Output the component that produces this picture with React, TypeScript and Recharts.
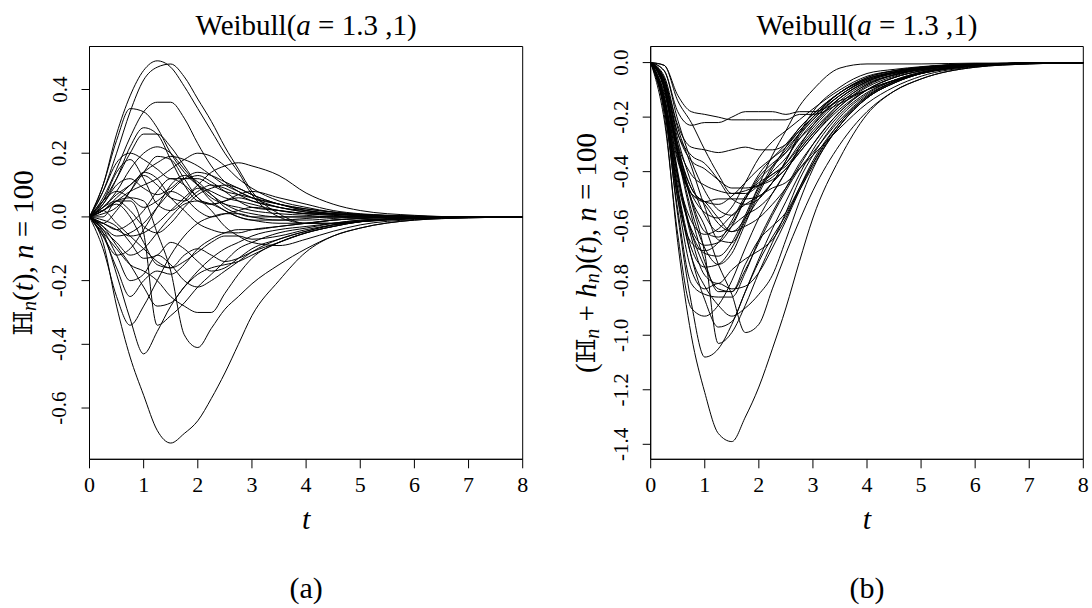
import { LineChart, Line, XAxis, YAxis, ReferenceArea } from 'recharts';

// time grid shared by every path
const T = [0, 0.25, 0.5, 0.75, 1, 1.25, 1.5, 1.75, 2, 2.25, 2.5, 2.75, 3, 3.5, 4, 4.5, 5, 6, 7, 8];

// panel (a): H_n(t) sample paths
const hA1 = [0, 0.1, 0.26, 0.38, 0.46, 0.49, 0.47, 0.41, 0.34, 0.27, 0.2, 0.14, 0.07, 0, -0.02, -0.02, -0.015, -0.005, 0, 0];
const hA2 = [0, 0.08, 0.2, 0.33, 0.43, 0.47, 0.48, 0.44, 0.37, 0.3, 0.22, 0.15, 0.08, 0.01, -0.02, -0.02, -0.015, -0.005, 0, 0];
const hB = [0, 0.06, 0.15, 0.25, 0.33, 0.36, 0.36, 0.31, 0.23, 0.16, 0.11, 0.08, 0.06, 0.04, 0.025, 0.015, 0.008, 0.002, 0, 0];
const hC = [0, 0.1, 0.24, 0.34, 0.33, 0.28, 0.2, 0.14, 0.1, 0.08, 0.06, 0.05, 0.04, 0.02, 0.01, 0.01, 0.005, 0, 0, 0];
const hD = [0, 0.05, 0.12, 0.2, 0.26, 0.26, 0.22, 0.16, 0.1, 0.05, 0.02, 0, -0.01, -0.02, -0.02, -0.01, -0.005, 0, 0, 0];
const hE = [0, 0.03, 0.08, 0.15, 0.2, 0.22, 0.2, 0.15, 0.1, 0.06, 0.04, 0.03, 0.02, 0.01, 0.005, 0, 0, 0, 0, 0];
const hF = [0, 0.02, 0.05, 0.08, 0.1, 0.12, 0.15, 0.18, 0.2, 0.19, 0.16, 0.12, 0.09, 0.05, 0.03, 0.015, 0.008, 0.002, 0, 0];
const hG = [0, -0.02, -0.04, -0.06, -0.05, -0.02, 0.02, 0.06, 0.1, 0.14, 0.16, 0.17, 0.16, 0.13, 0.075, 0.04, 0.02, 0.005, 0, 0];
const hH = [0, 0.08, 0.17, 0.2, 0.18, 0.15, 0.12, 0.12, 0.13, 0.11, 0.08, 0.05, 0.03, 0.02, 0.01, 0.005, 0, 0, 0, 0];
const hI = [0, 0.02, 0.06, 0.1, 0.14, 0.17, 0.19, 0.18, 0.16, 0.13, 0.1, 0.08, 0.06, 0.03, 0.02, 0.01, 0.005, 0, 0, 0];
const hJ = [0, 0.04, 0.1, 0.12, 0.09, 0.07, 0.09, 0.12, 0.12, 0.1, 0.08, 0.07, 0.06, 0.04, 0.02, 0.01, 0.005, 0, 0, 0];
const hK = [0, -0.03, -0.06, -0.05, -0.02, 0.03, 0.08, 0.12, 0.14, 0.13, 0.11, 0.09, 0.07, 0.04, 0.025, 0.015, 0.008, 0.002, 0, 0];
const hL = [0, 0.03, 0.05, 0.02, -0.03, -0.05, -0.02, 0.03, 0.07, 0.09, 0.1, 0.09, 0.07, 0.04, 0.02, 0.01, 0.005, 0, 0, 0];
const hM = [0, 0.05, 0.08, 0.06, 0.03, 0.05, 0.08, 0.06, 0.02, 0, 0.01, 0.02, 0.03, 0.02, 0.01, 0.005, 0, 0, 0, 0];
const hN = [0, -0.02, 0.02, 0.08, 0.14, 0.12, 0.06, 0.02, -0.02, -0.04, -0.05, -0.05, -0.04, -0.03, -0.02, -0.01, -0.005, 0, 0, 0];
const hO = [0, -0.04, -0.08, -0.12, -0.1, -0.05, 0, 0.04, 0.05, 0.04, 0.02, 0, -0.01, -0.01, -0.005, 0, 0, 0, 0, 0];
const hP = [0, 0.02, -0.02, -0.06, -0.1, -0.14, -0.16, -0.14, -0.11, -0.08, -0.06, -0.06, -0.07, -0.06, -0.04, -0.025, -0.015, -0.005, 0, 0];
const hQ = [0, -0.1, -0.25, -0.34, -0.28, -0.2, -0.12, -0.06, -0.02, 0, 0.01, 0.01, 0, -0.01, -0.01, -0.005, 0, 0, 0, 0];
const hR = [0, -0.05, -0.18, -0.32, -0.43, -0.36, -0.28, -0.22, -0.17, -0.13, -0.1, -0.08, -0.06, -0.04, -0.03, -0.02, -0.01, -0.003, 0, 0];
const hS = [0, 0, 0.05, 0.05, -0.05, -0.34, -0.31, -0.27, -0.22, -0.18, -0.14, -0.1, -0.08, -0.05, -0.035, -0.02, -0.01, -0.003, 0, 0];
const hU = [0, 0.02, 0.05, 0.06, 0.05, -0.05, -0.17, -0.37, -0.41, -0.35, -0.29, -0.25, -0.21, -0.15, -0.1, -0.06, -0.035, -0.01, -0.003, 0];
const hW = [0, -0.05, -0.1, -0.15, -0.17, -0.2, -0.25, -0.28, -0.3, -0.3, -0.24, -0.18, -0.13, -0.08, -0.05, -0.03, -0.015, -0.004, 0, 0];
const hX = [0, -0.06, -0.16, -0.25, -0.2, -0.17, -0.18, -0.15, -0.1, -0.07, -0.05, -0.04, -0.04, -0.03, -0.02, -0.01, -0.005, 0, 0, 0];
const hY = [0, -0.03, -0.09, -0.15, -0.22, -0.28, -0.27, -0.22, -0.18, -0.16, -0.15, -0.14, -0.12, -0.08, -0.05, -0.03, -0.015, -0.004, 0, 0];
const hZ = [0, -0.08, -0.28, -0.44, -0.56, -0.67, -0.71, -0.68, -0.64, -0.57, -0.49, -0.4, -0.31, -0.2, -0.11, -0.06, -0.035, -0.01, -0.003, 0];
const hAA = [0, -0.04, -0.12, -0.2, -0.18, -0.12, -0.15, -0.2, -0.22, -0.2, -0.17, -0.14, -0.11, -0.07, -0.045, -0.025, -0.013, -0.004, 0, 0];
const hAB = [0, 0.04, 0.12, 0.22, 0.28, 0.26, 0.18, 0.1, 0.05, 0.04, 0.05, 0.06, 0.05, 0.03, 0.015, 0.008, 0.004, 0, 0, 0];
const hAC = [0, 0.01, 0.03, 0.08, 0.14, 0.19, 0.18, 0.12, 0.06, 0.04, 0.05, 0.07, 0.08, 0.06, 0.04, 0.02, 0.01, 0.003, 0, 0];
const hAD = [0, -0.02, -0.04, -0.02, 0.02, 0.08, 0.12, 0.1, 0.06, 0.02, -0.03, -0.06, -0.08, -0.09, -0.07, -0.045, -0.025, -0.008, -0.002, 0];
const hAE = [0, 0.02, 0.04, 0, -0.08, -0.15, -0.16, -0.12, -0.1, -0.12, -0.14, -0.13, -0.11, -0.08, -0.05, -0.03, -0.015, -0.004, 0, 0];
const hAF = [0, 0.03, 0.07, 0.1, 0.13, 0.1, 0.06, 0.05, 0.08, 0.1, 0.09, 0.07, 0.05, 0.03, 0.015, 0.008, 0.004, 0, 0, 0];
const hAG = [0, -0.01, -0.03, -0.08, -0.13, -0.12, -0.08, -0.1, -0.14, -0.17, -0.16, -0.13, -0.1, -0.07, -0.045, -0.025, -0.013, -0.004, 0, 0];
const hAH = [0, 0.05, 0.14, 0.18, 0.12, 0.04, 0.02, 0.05, 0.09, 0.07, 0.03, 0.01, 0, 0, 0, 0, 0, 0, 0, 0];
const hAI = [0, -0.06, -0.12, -0.1, -0.04, 0.03, 0.1, 0.13, 0.11, 0.07, 0.04, 0.02, 0.01, 0, 0, 0, 0, 0, 0, 0];

// panel (b): (H_n + h_n)(t) sample paths
const sA1 = [0, -0.01, -0.12, -0.18, -0.19, -0.2, -0.21, -0.21, -0.21, -0.21, -0.21, -0.19, -0.19, -0.15, -0.1, -0.065, -0.04, -0.012, -0.002, 0];
const sA2 = [0, -0.03, -0.18, -0.23, -0.22, -0.22, -0.2, -0.18, -0.18, -0.18, -0.19, -0.18, -0.18, -0.14, -0.1, -0.065, -0.04, -0.012, -0.002, 0];
const sB = [0, -0.05, -0.23, -0.31, -0.32, -0.33, -0.32, -0.31, -0.32, -0.32, -0.3, -0.25, -0.2, -0.11, -0.055, -0.03, -0.017, -0.005, -0.002, 0];
const sC = [0, -0.01, -0.14, -0.22, -0.32, -0.41, -0.48, -0.48, -0.45, -0.4, -0.35, -0.28, -0.22, -0.13, -0.07, -0.035, -0.02, -0.007, -0.002, 0];
const sD = [0, -0.06, -0.26, -0.36, -0.39, -0.43, -0.46, -0.46, -0.45, -0.43, -0.39, -0.33, -0.27, -0.17, -0.1, -0.055, -0.03, -0.007, -0.002, 0];
const sE = [0, -0.08, -0.3, -0.41, -0.45, -0.47, -0.48, -0.47, -0.45, -0.42, -0.37, -0.3, -0.24, -0.14, -0.075, -0.045, -0.025, -0.007, -0.002, 0];
const sF = [0, -0.09, -0.33, -0.48, -0.55, -0.57, -0.53, -0.44, -0.35, -0.29, -0.25, -0.21, -0.17, -0.1, -0.05, -0.03, -0.017, -0.005, -0.002, 0];
const sG = [0, -0.13, -0.42, -0.62, -0.7, -0.71, -0.66, -0.56, -0.45, -0.34, -0.25, -0.16, -0.1, -0.02, -0.005, -0.005, -0.005, -0.002, -0.002, 0];
const sH = [0, -0.03, -0.21, -0.36, -0.47, -0.54, -0.56, -0.5, -0.42, -0.37, -0.33, -0.28, -0.23, -0.13, -0.07, -0.04, -0.025, -0.007, -0.002, 0];
const sI = [0, -0.09, -0.32, -0.46, -0.51, -0.52, -0.49, -0.44, -0.39, -0.35, -0.31, -0.25, -0.2, -0.12, -0.06, -0.035, -0.02, -0.007, -0.002, 0];
const sJ = [0, -0.07, -0.28, -0.44, -0.56, -0.62, -0.59, -0.5, -0.43, -0.38, -0.33, -0.26, -0.2, -0.11, -0.06, -0.035, -0.02, -0.007, -0.002, 0];
const sK = [0, -0.14, -0.44, -0.61, -0.67, -0.66, -0.6, -0.5, -0.41, -0.35, -0.3, -0.24, -0.19, -0.11, -0.055, -0.03, -0.017, -0.005, -0.002, 0];
const sL = [0, -0.08, -0.33, -0.54, -0.68, -0.74, -0.7, -0.59, -0.48, -0.39, -0.31, -0.24, -0.19, -0.11, -0.06, -0.035, -0.02, -0.007, -0.002, 0];
const sM = [0, -0.06, -0.3, -0.5, -0.62, -0.64, -0.6, -0.56, -0.53, -0.48, -0.4, -0.31, -0.23, -0.13, -0.07, -0.04, -0.025, -0.007, -0.002, 0];
const sN = [0, -0.13, -0.36, -0.48, -0.51, -0.57, -0.62, -0.6, -0.57, -0.52, -0.46, -0.38, -0.3, -0.18, -0.1, -0.055, -0.03, -0.007, -0.002, 0];
const sO = [0, -0.15, -0.46, -0.68, -0.75, -0.74, -0.68, -0.58, -0.5, -0.44, -0.39, -0.33, -0.27, -0.16, -0.085, -0.045, -0.025, -0.007, -0.002, 0];
const sP = [0, -0.09, -0.4, -0.62, -0.75, -0.83, -0.84, -0.76, -0.66, -0.56, -0.47, -0.39, -0.33, -0.21, -0.12, -0.07, -0.04, -0.012, -0.002, 0];
const sQ = [0, -0.21, -0.63, -0.9, -0.93, -0.89, -0.8, -0.68, -0.57, -0.48, -0.4, -0.32, -0.26, -0.16, -0.09, -0.05, -0.025, -0.007, -0.002, 0];
const sR = [0, -0.16, -0.56, -0.88, -1.08, -1.05, -0.96, -0.84, -0.72, -0.61, -0.51, -0.41, -0.32, -0.19, -0.11, -0.065, -0.035, -0.01, -0.002, 0];
const sS = [0, -0.11, -0.33, -0.51, -0.7, -1.03, -0.99, -0.89, -0.77, -0.66, -0.55, -0.43, -0.34, -0.2, -0.115, -0.065, -0.035, -0.01, -0.002, 0];
const sU = [0, -0.09, -0.33, -0.5, -0.6, -0.74, -0.85, -0.99, -0.96, -0.83, -0.7, -0.58, -0.47, -0.3, -0.18, -0.105, -0.06, -0.017, -0.005, 0];
const sW = [0, -0.16, -0.48, -0.71, -0.82, -0.89, -0.93, -0.9, -0.85, -0.78, -0.65, -0.51, -0.39, -0.23, -0.13, -0.075, -0.04, -0.011, -0.002, 0];
const sX = [0, -0.17, -0.54, -0.81, -0.85, -0.86, -0.86, -0.77, -0.65, -0.55, -0.46, -0.37, -0.3, -0.18, -0.1, -0.055, -0.03, -0.007, -0.002, 0];
const sY = [0, -0.14, -0.47, -0.71, -0.87, -0.97, -0.95, -0.84, -0.73, -0.64, -0.56, -0.47, -0.38, -0.23, -0.13, -0.075, -0.04, -0.011, -0.002, 0];
const sZ = [0, -0.19, -0.66, -1.0, -1.21, -1.36, -1.39, -1.3, -1.19, -1.05, -0.9, -0.73, -0.57, -0.35, -0.19, -0.105, -0.06, -0.017, -0.005, 0];
const sAA = [0, -0.15, -0.5, -0.76, -0.83, -0.81, -0.83, -0.82, -0.77, -0.68, -0.58, -0.47, -0.37, -0.22, -0.125, -0.07, -0.038, -0.011, -0.002, 0];
const sAB = [0, -0.07, -0.26, -0.34, -0.37, -0.43, -0.5, -0.52, -0.5, -0.44, -0.36, -0.27, -0.21, -0.12, -0.065, -0.037, -0.021, -0.007, -0.002, 0];
const sAC = [0, -0.1, -0.35, -0.48, -0.51, -0.5, -0.5, -0.5, -0.49, -0.44, -0.36, -0.26, -0.18, -0.09, -0.04, -0.025, -0.015, -0.004, -0.002, 0];
const sAD = [0, -0.13, -0.42, -0.58, -0.63, -0.61, -0.56, -0.52, -0.49, -0.46, -0.44, -0.39, -0.34, -0.24, -0.15, -0.09, -0.05, -0.015, -0.004, 0];
const sAE = [0, -0.09, -0.34, -0.56, -0.73, -0.84, -0.84, -0.74, -0.65, -0.6, -0.55, -0.46, -0.37, -0.23, -0.13, -0.075, -0.04, -0.011, -0.002, 0];
const sAF = [0, -0.08, -0.31, -0.46, -0.52, -0.59, -0.62, -0.57, -0.47, -0.38, -0.32, -0.26, -0.21, -0.12, -0.065, -0.037, -0.021, -0.007, -0.002, 0];
const sAG = [0, -0.12, -0.41, -0.64, -0.78, -0.81, -0.76, -0.72, -0.69, -0.65, -0.57, -0.46, -0.36, -0.22, -0.125, -0.07, -0.038, -0.011, -0.002, 0];
const sAH = [0, -0.06, -0.24, -0.38, -0.53, -0.65, -0.66, -0.57, -0.46, -0.41, -0.38, -0.32, -0.26, -0.15, -0.08, -0.045, -0.025, -0.007, -0.002, 0];
const sAI = [0, -0.17, -0.5, -0.66, -0.69, -0.66, -0.58, -0.49, -0.44, -0.41, -0.37, -0.31, -0.25, -0.15, -0.08, -0.045, -0.025, -0.007, -0.002, 0];

const leftPaths = [hA1, hA2, hB, hC, hD, hE, hF, hG, hH, hI, hJ, hK, hL, hM, hN, hO, hP, hQ, hR, hS, hU, hW, hX, hY, hZ, hAA, hAB, hAC, hAD, hAE, hAF, hAG, hAH, hAI];
const rightPaths = [sA1, sA2, sB, sC, sD, sE, sF, sG, sH, sI, sJ, sK, sL, sM, sN, sO, sP, sQ, sR, sS, sU, sW, sX, sY, sZ, sAA, sAB, sAC, sAD, sAE, sAF, sAG, sAH, sAI];

const xTicks = [0, 1, 2, 3, 4, 5, 6, 7, 8];
const leftYTicks = [-0.6, -0.4, -0.2, 0, 0.2, 0.4];
const rightYTicks = [-1.4, -1.2, -1.0, -0.8, -0.6, -0.4, -0.2, 0];

const FONT = '"Liberation Serif", "DejaVu Serif", serif';
const BB = '"DejaVu Serif", "DejaVu Sans", serif';
const W = 546;
const H = 608;
const TOP = 46.5;
const BOTTOM = 459.3;
const XH = 30;
const YW = 40;

function toRows(paths: number[][]) {
  return T.map((t, i) => {
    const row: Record<string, number> = { t };
    paths.forEach((p, k) => {
      row['p' + k] = p[i];
    });
    return row;
  });
}

const fmt = (v: number) => (v === 0 ? '0.0' : v.toFixed(1));

const leftYTitle = (
  <>
    <tspan fontFamily={BB} fontSize={26}>ℍ</tspan>
    <tspan fontStyle="italic" fontSize={20} dy={6}>n</tspan>
    <tspan dy={-6}>(</tspan>
    <tspan fontStyle="italic">t</tspan>
    <tspan>), </tspan>
    <tspan fontStyle="italic">n</tspan>
    <tspan> = 100</tspan>
  </>
);

const rightYTitle = (
  <>
    <tspan>(</tspan>
    <tspan fontFamily={BB} fontSize={26}>ℍ</tspan>
    <tspan fontStyle="italic" fontSize={20} dy={6}>n</tspan>
    <tspan dy={-6}> + </tspan>
    <tspan fontStyle="italic">h</tspan>
    <tspan fontStyle="italic" fontSize={20} dy={6}>n</tspan>
    <tspan dy={-6}>)(</tspan>
    <tspan fontStyle="italic">t</tspan>
    <tspan>), </tspan>
    <tspan fontStyle="italic">n</tspan>
    <tspan> = 100</tspan>
  </>
);

type PanelProps = {
  paths: number[][];
  yDomain: [number, number];
  yTicks: number[];
  plotLeft: number;
  plotRight: number;
  yTitle: React.ReactNode;
  yTitleX: number;
  caption: string;
};

function Panel({ paths, yDomain, yTicks, plotLeft, plotRight, yTitle, yTitleX, caption }: PanelProps) {
  const rows = toRows(paths);
  const cx = (plotLeft + plotRight) / 2;
  const cy = (TOP + BOTTOM) / 2;

  const XTick = ({ x, payload }: any) => (
    <text x={x} y={484} textAnchor="middle" dominantBaseline="central" fontSize={22} fontFamily={FONT} fill="#000">
      {payload.value}
    </text>
  );

  const YTick = ({ y, payload }: any) => {
    const tx = plotLeft - 30;
    return (
      <text
        x={tx}
        y={y}
        transform={`rotate(-90 ${tx} ${y})`}
        textAnchor="middle"
        dominantBaseline="central"
        fontSize={21}
        fontFamily={FONT}
        fill="#000"
      >
        {fmt(payload.value)}
      </text>
    );
  };

  return (
    <LineChart
      width={W}
      height={H}
      data={rows}
      margin={{ top: TOP, right: W - plotRight, bottom: H - BOTTOM - XH, left: plotLeft - YW }}
    >
      <XAxis
        dataKey="t"
        type="number"
        domain={[0, 8]}
        ticks={xTicks}
        height={XH}
        tickSize={9}
        axisLine={{ stroke: '#000' }}
        tickLine={{ stroke: '#000' }}
        tick={<XTick />}
        label={{
          content: () => (
            <g fontFamily={FONT} fill="#000">
              <text x={cx} y={518} textAnchor="middle" dominantBaseline="central" fontSize={30} fontStyle="italic">
                t
              </text>
              <text x={cx} y={587} textAnchor="middle" dominantBaseline="central" fontSize={30}>
                {caption}
              </text>
            </g>
          ),
        }}
      />
      <YAxis
        type="number"
        domain={yDomain}
        allowDataOverflow
        ticks={yTicks}
        width={YW}
        tickSize={8}
        axisLine={{ stroke: '#000' }}
        tickLine={{ stroke: '#000' }}
        tick={<YTick />}
        label={{
          content: () => (
            <text
              x={yTitleX}
              y={cy}
              transform={`rotate(-90 ${yTitleX} ${cy})`}
              textAnchor="middle"
              dominantBaseline="central"
              fontSize={29}
              fontFamily={FONT}
              fill="#000"
            >
              {yTitle}
            </text>
          ),
        }}
      />
      {paths.map((_, k) => (
        <Line
          key={k}
          dataKey={'p' + k}
          type="monotone"
          stroke="#000"
          strokeWidth={1}
          dot={false}
          activeDot={false}
          isAnimationActive={false}
        />
      ))}
      <ReferenceArea
        x1={0}
        x2={8}
        y1={yDomain[0]}
        y2={yDomain[1]}
        fill="none"
        stroke="#000"
        strokeWidth={1}
        ifOverflow="visible"
        label={{
          content: () => (
            <text x={cx} y={25} textAnchor="middle" dominantBaseline="central" fontSize={29} fontFamily={FONT} fill="#000">
              Weibull(<tspan fontStyle="italic">a</tspan> = 1.3 ,1)
            </text>
          ),
        }}
      />
    </LineChart>
  );
}

export default function App() {
  return (
    <div style={{ position: 'absolute', left: 0, top: 0, width: 1092, height: 608, background: '#fff' }}>
      <div style={{ position: 'absolute', left: 0, top: 0 }}>
        <Panel
          paths={leftPaths}
          yDomain={[-0.761, 0.535]}
          yTicks={leftYTicks}
          plotLeft={89.5}
          plotRight={522.7}
          yTitle={leftYTitle}
          yTitleX={23}
          caption="(a)"
        />
      </div>
      <div style={{ position: 'absolute', left: W, top: 0 }}>
        <Panel
          paths={rightPaths}
          yDomain={[-1.455, 0.059]}
          yTicks={rightYTicks}
          plotLeft={104.7}
          plotRight={537.3}
          yTitle={rightYTitle}
          yTitleX={40}
          caption="(b)"
        />
      </div>
    </div>
  );
}
